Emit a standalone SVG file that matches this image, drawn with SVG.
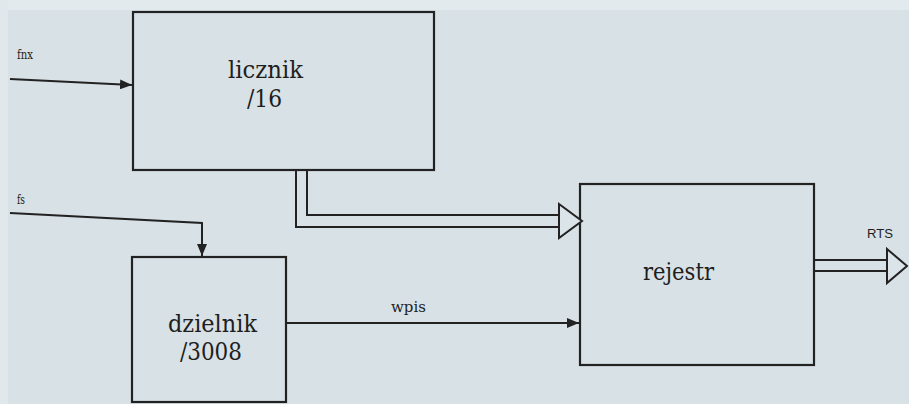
<svg xmlns="http://www.w3.org/2000/svg" width="909" height="404" viewBox="0 0 909 404">
<style>
.box{fill:none;stroke:#222;stroke-width:2.2}
.ln{fill:none;stroke:#222;stroke-width:2}
.hol{fill:#dbe4e8;stroke:#222;stroke-width:2;stroke-linejoin:miter}
.t{font-family:'DejaVu Serif','Liberation Serif',serif;fill:#1e1e1e;text-anchor:middle}
.s{font-family:'Liberation Sans','DejaVu Sans',sans-serif;fill:#1e1e1e}
</style>
<defs>
<marker id="ah" viewBox="0 0 12 10" refX="12" refY="5" markerWidth="12" markerHeight="10" markerUnits="userSpaceOnUse" orient="auto">
<path d="M0,0 L12,5 L0,10 Z" fill="#222"/>
</marker>
</defs>
<rect width="909" height="404" fill="#d8e2e6"/>
<rect width="909" height="10" fill="#e3eaed"/>
<rect width="8" height="404" fill="#e0e8eb"/>

<g id="licznik">
<rect class="box" x="133" y="12" width="301" height="158"/>
<text class="t" x="265.5" y="78" font-size="24" textLength="75" lengthAdjust="spacingAndGlyphs">licznik</text>
<text class="t" x="264.5" y="107" font-size="24" textLength="35" lengthAdjust="spacingAndGlyphs">/16</text>
</g>

<g id="dzielnik">
<rect class="box" x="132" y="257" width="154" height="145"/>
<text class="t" x="212.5" y="332" font-size="24" textLength="89" lengthAdjust="spacingAndGlyphs">dzielnik</text>
<text class="t" x="211" y="360" font-size="24" textLength="62" lengthAdjust="spacingAndGlyphs">/3008</text>
</g>

<g id="rejestr">
<rect class="box" x="580" y="184" width="234" height="181"/>
<text class="t" x="678.5" y="280" font-size="25" textLength="71" lengthAdjust="spacingAndGlyphs">rejestr</text>
</g>

<g id="connectors">
<path class="ln" d="M10,79 L132,85" marker-end="url(#ah)"/>
<text class="t" x="25" y="59" font-size="12" textLength="16" lengthAdjust="spacingAndGlyphs">fnx</text>
<path class="ln" d="M10,213 L202,223 L202,256" marker-end="url(#ah)"/>
<text class="t" x="21" y="204" font-size="12" textLength="8" lengthAdjust="spacingAndGlyphs">fs</text>
<path class="ln" d="M296,171 L296,227 L560,227"/>
<path class="ln" d="M307,171 L307,215 L560,215"/>
<path class="hol" d="M559,204 L582,221 L559,238 Z"/>
<path class="ln" d="M287,323 L579,323" marker-end="url(#ah)"/>
<text class="t" x="408.5" y="312" font-size="15" textLength="35" lengthAdjust="spacingAndGlyphs">wpis</text>
<path class="ln" d="M815,260 L887,260 M815,271 L887,271"/>
<path class="hol" d="M887,249 L907,266 L887,283 Z"/>
<text class="s" x="867" y="238" font-size="13" textLength="26" lengthAdjust="spacingAndGlyphs">RTS</text>
</g>
</svg>
